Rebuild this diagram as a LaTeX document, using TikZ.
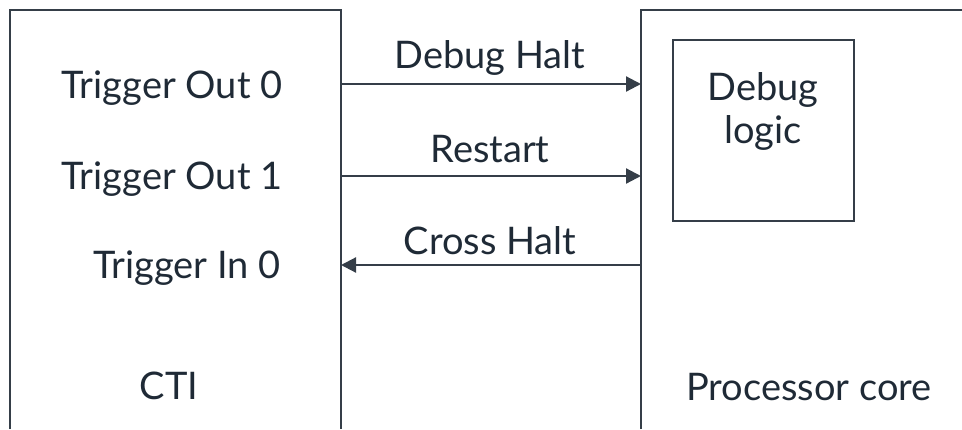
\documentclass[tikz,border=0pt]{standalone}
\usepackage{fontspec}
\setmainfont{Lato}
\usetikzlibrary{arrows.meta}
\definecolor{ink}{HTML}{1F2A36}
\definecolor{edge}{HTML}{353E48}
\begin{document}
\begin{tikzpicture}[x=1pt,y=-1pt,
  lbl/.style={font=\fontsize{38}{43}\selectfont, text=ink, inner sep=0pt},
  wire/.style={draw=edge, line width=2.2pt, -{Triangle[length=15pt,width=15pt]}}]
  \useasboundingbox (0,0) rectangle (962,429);
  % open-bottomed blocks
  \draw[edge, line width=2.4pt] (10,429) -- (10,10) -- (341,10) -- (341,429);
  \draw[edge, line width=2.4pt] (641,429) -- (641,10) -- (965,10);
  \draw[edge, line width=2.2pt] (673,40) rectangle (854,221);
  % anchor points on block edges
  \coordinate (o0) at (341,84);
  \coordinate (o1) at (341,176);
  \coordinate (i0) at (341,265);
  \coordinate (c0) at (641,84);
  \coordinate (c1) at (641,176);
  \coordinate (c2) at (641,265);
  % labels
  \node[lbl] (to0) at (172,88) {Trigger Out 0};
  \node[lbl] (to1) at (172,179) {Trigger Out 1};
  \node[lbl] (ti0) at (187,268) {Trigger In 0};
  \node[lbl] (cti) at (169,386) {CTI};
  \node[lbl] (dh) at (490,58) {Debug Halt};
  \node[lbl] (rs) at (490,149) {Restart};
  \node[lbl] (ch) at (490,241) {Cross Halt};
  \node[lbl, align=center] (dl) at (763,111) {Debug\\logic};
  \node[lbl] (pc) at (809,387) {Processor core};
  % signals
  \draw[wire] (o0) -- (c0);
  \draw[wire] (o1) -- (c1);
  \draw[wire] (c2) -- (i0);
\end{tikzpicture}
\end{document}
